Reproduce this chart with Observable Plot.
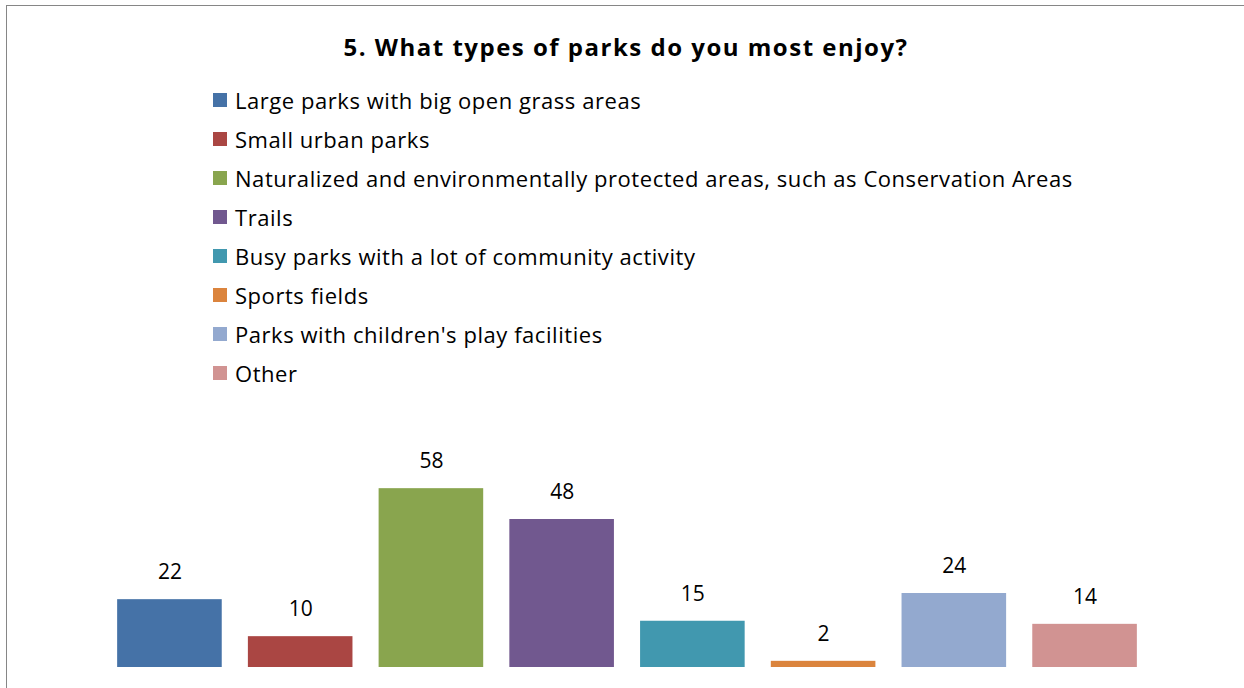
<!DOCTYPE html>
<html>
<head>
<meta charset="utf-8">
<script src="https://cdn.jsdelivr.net/npm/d3@7"></script>
<script src="https://cdn.jsdelivr.net/npm/@observablehq/plot@0.6"></script>
<style>
  html, body { margin: 0; padding: 0; background: #fff; width: 1244px; height: 688px; overflow: hidden; font-family: "Open Sans", sans-serif; }
  #frame { position: absolute; left: 6px; top: 5px; width: 1300px; height: 760px; border: 1.5px solid #868686; box-sizing: border-box; }
  #title { position: absolute; left: 0; top: 31px; width: 1252px; text-align: center; font-size: 24px; font-weight: bold; color: #000; line-height: 32px; letter-spacing: 1.5px; }
  #legend { position: absolute; left: 213px; top: 84px; }
  .item { position: absolute; left: 0; height: 32px; white-space: nowrap; font-size: 22px; color: #000; line-height: 32px; letter-spacing: 0.55px; }
  .sw { position: absolute; left: 0; top: 9px; width: 14px; height: 14px; }
  .lbl { position: absolute; left: 22px; top: 0; }
  #chart { position: absolute; left: 0; top: 400px; }
</style>
</head>
<body>
<div id="frame"></div>
<div id="title">5. What types of parks do you most enjoy?</div>
<div id="legend"></div>
<div id="chart"></div>
<script>
const categories = [
  "Large parks with big open grass areas",
  "Small urban parks",
  "Naturalized and environmentally protected areas, such as Conservation Areas",
  "Trails",
  "Busy parks with a lot of community activity",
  "Sports fields",
  "Parks with children's play facilities",
  "Other"
];
const values = [22, 10, 58, 48, 15, 2, 24, 14];
const colors = ["#4572A7", "#AA4643", "#89A54E", "#71588F", "#4198AF", "#DB843D", "#93A9CF", "#D19392"];

const data = categories.map((c, i) => ({category: c, value: values[i]}));

// legend
const legend = document.getElementById("legend");
categories.forEach((c, i) => {
  const item = document.createElement("div");
  item.className = "item";
  item.style.top = (i * 39) + "px";
  const sw = document.createElement("div");
  sw.className = "sw";
  sw.style.background = colors[i];
  const lbl = document.createElement("span");
  lbl.className = "lbl";
  lbl.textContent = c;
  item.appendChild(sw);
  item.appendChild(lbl);
  legend.appendChild(item);
});

const chart = Plot.plot({
  width: 1244,
  height: 288,
  marginLeft: 91,
  marginRight: 81,
  marginTop: 82,
  marginBottom: 21,
  x: {domain: categories, padding: 0.2, round: false, axis: null},
  y: {domain: [0, 60], axis: null},
  color: {domain: categories, range: colors},
  style: {background: "transparent", fontFamily: "'Open Sans', sans-serif"},
  marks: [
    Plot.barY(data, {x: "category", y: "value", fill: "category"}),
    Plot.text(data, {x: "category", y: "value", text: d => String(d.value), dy: -27, fontSize: 21, fill: "#000"})
  ]
});
document.getElementById("chart").appendChild(chart);
</script>
</body>
</html>
